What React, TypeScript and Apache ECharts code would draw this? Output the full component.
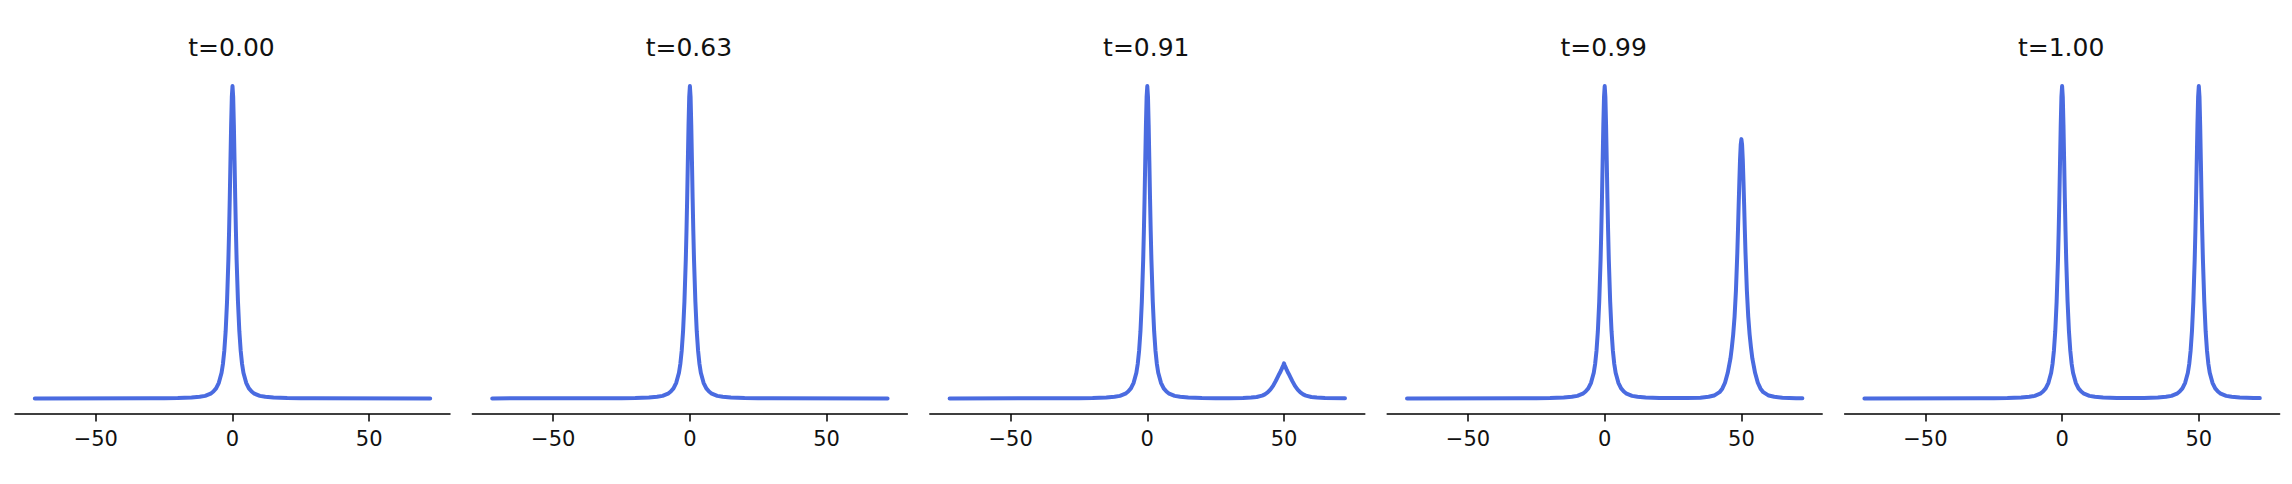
import React, { useEffect, useRef } from "react";
import * as echarts from "echarts";

// Panel titles
const titles: string[] = ["t=0.00", "t=0.63", "t=0.91", "t=0.99", "t=1.00"];

// X tick values shown on every panel
const xTicks: number[] = [-50, 0, 50];

// Curves: [x, y] (y relative to the tallest peak)
const curveT000: [number, number][] = [
  [-72.3, 0], [-30, 0.0003], [-25, 0.0006], [-20, 0.0012], [-15, 0.0028], [-12, 0.005], [-10, 0.008],
  [-8, 0.015], [-7, 0.022], [-6, 0.032], [-5, 0.05], [-4, 0.082], [-3.5, 0.11], [-3, 0.152], [-2.5, 0.215],
  [-2, 0.31], [-1.5, 0.445], [-1.25, 0.535], [-1, 0.64], [-0.75, 0.76], [-0.5, 0.875], [-0.25, 0.965], [0, 1],
  [0.25, 0.965], [0.5, 0.875], [0.75, 0.76], [1, 0.64], [1.25, 0.535], [1.5, 0.445], [2, 0.31], [2.5, 0.215],
  [3, 0.152], [3.5, 0.11], [4, 0.082], [5, 0.05], [6, 0.032], [7, 0.022], [8, 0.015], [10, 0.008],
  [12, 0.005], [15, 0.0028], [20, 0.0012], [25, 0.0006], [30, 0.0003], [72.3, 0],
];

const curveT063: [number, number][] = [
  [-72.3, 0], [-30, 0.0003], [-25, 0.0006], [-20, 0.0012], [-15, 0.0028], [-12, 0.005], [-10, 0.008],
  [-8, 0.015], [-7, 0.022], [-6, 0.032], [-5, 0.05], [-4, 0.082], [-3.5, 0.11], [-3, 0.152], [-2.5, 0.215],
  [-2, 0.31], [-1.5, 0.445], [-1.25, 0.535], [-1, 0.64], [-0.75, 0.76], [-0.5, 0.875], [-0.25, 0.965], [0, 1],
  [0.25, 0.965], [0.5, 0.875], [0.75, 0.76], [1, 0.64], [1.25, 0.535], [1.5, 0.445], [2, 0.31], [2.5, 0.215],
  [3, 0.152], [3.5, 0.11], [4, 0.082], [5, 0.05], [6, 0.032], [7, 0.022], [8, 0.015], [10, 0.008],
  [12, 0.005], [15, 0.0028], [20, 0.0012], [25, 0.0006], [30, 0.0003], [72.3, 0],
];

const curveT091: [number, number][] = [
  [-72.3, 0], [-30, 0.0003], [-25, 0.0006], [-20, 0.0012], [-15, 0.0028], [-12, 0.005], [-10, 0.008],
  [-8, 0.015], [-7, 0.022], [-6, 0.032], [-5, 0.05], [-4, 0.082], [-3.5, 0.11], [-3, 0.152], [-2.5, 0.215],
  [-2, 0.31], [-1.5, 0.445], [-1.25, 0.535], [-1, 0.64], [-0.75, 0.76], [-0.5, 0.875], [-0.25, 0.965], [0, 1],
  [0.25, 0.965], [0.5, 0.875], [0.75, 0.76], [1, 0.64], [1.25, 0.535], [1.5, 0.445], [2, 0.31], [2.5, 0.215],
  [3, 0.152], [3.5, 0.11], [4, 0.082], [5, 0.05], [6, 0.032], [7, 0.022], [8, 0.015], [10, 0.008],
  [12, 0.005], [15, 0.0029], [20, 0.0013], [25, 0.0008], [30, 0.0007], [35, 0.0012], [38, 0.0025],
  [40, 0.0045], [42, 0.009], [43, 0.013], [44, 0.019], [45, 0.028], [46, 0.04], [46.5, 0.048], [47, 0.056],
  [47.5, 0.065], [48, 0.074], [48.5, 0.082], [49, 0.091], [49.25, 0.096], [49.5, 0.101], [49.75, 0.106], [50, 0.112],
  [50.25, 0.106], [50.5, 0.101], [50.75, 0.096], [51, 0.091], [51.5, 0.082], [52, 0.074], [52.5, 0.065], [53, 0.056],
  [53.5, 0.048], [54, 0.04], [55, 0.028], [56, 0.019], [57, 0.013], [58, 0.009], [60, 0.0045], [62, 0.0025],
  [65, 0.0012], [72.3, 0.0003],
];

const curveT099: [number, number][] = [
  [-72.3, 0], [-30, 0.0003], [-25, 0.0006], [-20, 0.0012], [-15, 0.0028], [-12, 0.005], [-10, 0.008],
  [-8, 0.015], [-7, 0.022], [-6, 0.032], [-5, 0.05], [-4, 0.082], [-3.5, 0.11], [-3, 0.152], [-2.5, 0.215],
  [-2, 0.31], [-1.5, 0.445], [-1.25, 0.535], [-1, 0.64], [-0.75, 0.76], [-0.5, 0.875], [-0.25, 0.965], [0, 1],
  [0.25, 0.965], [0.5, 0.875], [0.75, 0.76], [1, 0.64], [1.25, 0.535], [1.5, 0.445], [2, 0.31], [2.5, 0.215],
  [3, 0.152], [3.5, 0.11], [4, 0.082], [5, 0.05], [6, 0.032], [7, 0.022], [8, 0.015], [10, 0.008],
  [12, 0.005], [15, 0.0029], [20, 0.0014], [25, 0.0009], [30, 0.001], [35, 0.0022], [38, 0.005],
  [40, 0.009], [42, 0.02], [43, 0.031], [44, 0.05], [45, 0.082], [46, 0.128], [46.5, 0.163], [47, 0.205],
  [47.5, 0.262], [48, 0.345], [48.5, 0.465], [48.75, 0.54], [49, 0.62], [49.25, 0.695], [49.5, 0.765], [49.75, 0.812], [50, 0.83],
  [50.25, 0.812], [50.5, 0.765], [50.75, 0.695], [51, 0.62], [51.25, 0.54], [51.5, 0.465], [52, 0.345], [52.5, 0.262], [53, 0.205],
  [53.5, 0.163], [54, 0.128], [55, 0.082], [56, 0.05], [57, 0.031], [58, 0.02], [60, 0.009], [62, 0.005],
  [65, 0.0022], [70, 0.0008], [72.3, 0.0005],
];

const curveT100: [number, number][] = [
  [-72.3, 0], [-30, 0.0003], [-25, 0.0006], [-20, 0.0012], [-15, 0.0028], [-12, 0.005], [-10, 0.008],
  [-8, 0.015], [-7, 0.022], [-6, 0.032], [-5, 0.05], [-4, 0.082], [-3.5, 0.11], [-3, 0.152], [-2.5, 0.215],
  [-2, 0.31], [-1.5, 0.445], [-1.25, 0.535], [-1, 0.64], [-0.75, 0.76], [-0.5, 0.875], [-0.25, 0.965], [0, 1],
  [0.25, 0.965], [0.5, 0.875], [0.75, 0.76], [1, 0.64], [1.25, 0.535], [1.5, 0.445], [2, 0.31], [2.5, 0.215],
  [3, 0.152], [3.5, 0.11], [4, 0.082], [5, 0.05], [6, 0.032], [7, 0.022], [8, 0.015], [10, 0.008],
  [12, 0.005], [15, 0.0029], [20, 0.0015], [25, 0.0012], [30, 0.0015], [35, 0.0029], [38, 0.005],
  [40, 0.008], [42, 0.015], [43, 0.022], [44, 0.032], [45, 0.05], [46, 0.082], [46.5, 0.11], [47, 0.152],
  [47.5, 0.215], [48, 0.31], [48.5, 0.445], [48.75, 0.535], [49, 0.64], [49.25, 0.76], [49.5, 0.875], [49.75, 0.965], [50, 1],
  [50.25, 0.965], [50.5, 0.875], [50.75, 0.76], [51, 0.64], [51.25, 0.535], [51.5, 0.445], [52, 0.31], [52.5, 0.215], [53, 0.152],
  [53.5, 0.11], [54, 0.082], [55, 0.05], [56, 0.032], [57, 0.022], [58, 0.015], [60, 0.008], [62, 0.005],
  [65, 0.0028], [70, 0.0012], [72.3, 0.0009],
];

const curves = [curveT000, curveT063, curveT091, curveT099, curveT100];

const PANEL_LEFT0 = 15;
const PANEL_STEP = 457.4;
const PANEL_W = 435;
const PANEL_TOP = 70.4;
const PANEL_H = 343.6;
const X_MIN = -79.55;
const X_MAX = 79.55;
const LINE_COLOR = "#4A6BE0";
const FONT = "DejaVu Sans";

const fmtTick = (v: number) => (v < 0 ? "\u2212" + Math.abs(v) : String(v));

export default function App() {
  const ref = useRef<HTMLDivElement>(null);
  useEffect(() => {
    if (!ref.current) return;
    const chart = echarts.init(ref.current, null, { renderer: "svg" });
    const grid = curves.map((_, i) => ({
      left: PANEL_LEFT0 + PANEL_STEP * i,
      top: PANEL_TOP,
      width: PANEL_W,
      height: PANEL_H,
    }));
    const xAxis = curves.map((_, i) => ({
      type: "value",
      gridIndex: i,
      min: X_MIN,
      max: X_MAX,
      axisLine: { show: true, onZero: false, lineStyle: { color: "#000", width: 1.5 } },
      axisTick: { show: true, length: 7.5, customValues: xTicks, lineStyle: { color: "#000", width: 1.5 } },
      axisLabel: {
        show: true,
        customValues: xTicks,
        formatter: fmtTick,
        fontSize: 21,
        color: "#111",
        fontFamily: FONT,
        margin: 14,
      },
      splitLine: { show: false },
    }));
    const yAxis = curves.map((_, i) => ({
      type: "value",
      gridIndex: i,
      min: -0.05,
      max: 1.05,
      show: false,
      splitLine: { show: false },
    }));
    const series = curves.map((d, i) => ({
      type: "line",
      name: titles[i],
      xAxisIndex: i,
      yAxisIndex: i,
      data: d,
      showSymbol: false,
      symbol: "none",
      smooth: false,
      silent: true,
      lineStyle: { color: LINE_COLOR, width: 4, cap: "round", join: "round" },
    }));
    const graphic = titles.map((t, i) => ({
      type: "text",
      x: PANEL_LEFT0 + PANEL_STEP * i + PANEL_W / 2 - 1,
      y: 47.5,
      style: {
        text: t,
        fontSize: 25,
        fontFamily: FONT,
        fill: "#111",
        align: "center",
        verticalAlign: "middle",
      },
    }));
    chart.setOption({
      animation: false,
      backgroundColor: "#fff",
      grid,
      xAxis,
      yAxis,
      series,
      graphic,
    });
    return () => chart.dispose();
  }, []);
  return (
    <div
      ref={ref}
      style={{ position: "absolute", left: 0, top: 0, width: 2292, height: 484, background: "#fff" }}
    />
  );
}
